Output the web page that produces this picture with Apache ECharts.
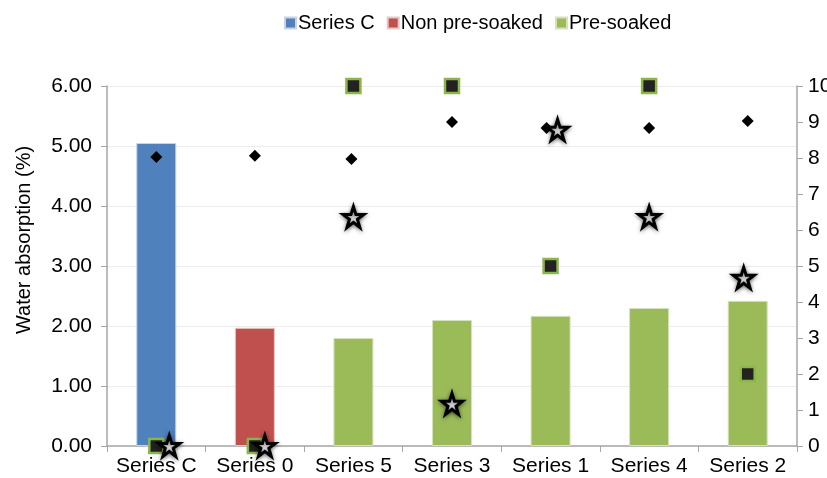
<!DOCTYPE html>
<html>
<head>
<meta charset="utf-8">
<script src="https://cdn.jsdelivr.net/npm/echarts@6/dist/echarts.min.js"></script>
<style>
  html, body { margin: 0; padding: 0; background: #fff; }
  #chart { width: 827px; height: 478px; }
</style>
</head>
<body>
<div id="chart"></div>
<script>
// Category names along the x axis
const categories = ['Series C', 'Series 0', 'Series 5', 'Series 3', 'Series 1', 'Series 4', 'Series 2'];

// Water absorption (%) bars, one group per treatment
const controlBar    = [5.05, null, null, null, null, null, null];
const nonPreSoaked  = [null, 1.97, null, null, null, null, null];
const preSoaked     = [null, null, 1.80, 2.10, 2.17, 2.30, 2.42];

// Marker series on the secondary axis (0–10)
const diamondValues = [8.03, 8.06, 7.97, 9.00, 8.83, 8.83, 9.03];
const squareValues  = [0, 0, 10, 10, 5, 10, 2];
const starValues    = [0, 0, 6.36, 1.17, 8.78, 6.36, 4.67];

// Horizontal nudges (px) for markers that sit beside each other
const diamondShift = [0, 0, -2, 0, -4, 0, 0];
const starShift    = [13, 10, 0, 0, 7, 0, -4];

const leftTicks = [0, 1, 2, 3, 4, 5, 6];
const rightTicks = [0, 1, 2, 3, 4, 5, 6, 7, 8, 9, 10];

const FONT = 'Liberation Sans, Arial, sans-serif';
const AXIS_GRAY = '#a6a6a6';

function withShift(values, shifts) {
  return values.map((v, i) => ({ value: v, symbolOffset: [shifts[i], 0] }));
}

const chart = echarts.init(document.getElementById('chart'));
chart.setOption({
  animation: false,
  textStyle: { fontFamily: FONT },
  legend: {
    data: ['Series C', 'Non pre-soaked', 'Pre-soaked'],
    top: 8,
    left: 279,
    itemWidth: 11,
    itemHeight: 11,
    itemGap: 12,
    icon: 'rect',
    textStyle: { fontSize: 20, color: '#000', fontFamily: FONT, padding: [0, 0, 0, -3] }
  },
  grid: { left: 107, right: 30, top: 86, bottom: 32, containLabel: false, outerBoundsMode: 'none' },
  graphic: [
    {
      type: 'text',
      x: 24, y: 240,
      rotation: Math.PI / 2,
      style: {
        text: 'Water absorption (%)',
        font: '20px ' + FONT,
        fill: '#000',
        textAlign: 'center',
        textVerticalAlign: 'middle'
      }
    }
  ],
  xAxis: {
    type: 'category',
    data: categories,
    axisLine: { lineStyle: { color: AXIS_GRAY, width: 1.5 } },
    axisTick: { show: true, length: 6, lineStyle: { color: AXIS_GRAY } },
    axisLabel: { interval: 0, hideOverlap: false, fontSize: 21, color: '#000', margin: 10, fontFamily: FONT }
  },
  yAxis: [
    {
      type: 'value',
      min: 0, max: 6, interval: 1,
      axisLine: { show: true, lineStyle: { color: AXIS_GRAY, width: 1.5 } },
      axisTick: { show: true, length: 6, lineStyle: { color: AXIS_GRAY } },
      axisLabel: {
        fontSize: 21, color: '#000', margin: 15, fontFamily: FONT,
        formatter: v => leftTicks.includes(v) ? v.toFixed(2) : ''
      },
      splitLine: { lineStyle: { color: '#ececec' } }
    },
    {
      type: 'value',
      min: 0, max: 10, interval: 1,
      position: 'right',
      axisLine: { show: true, lineStyle: { color: AXIS_GRAY, width: 1.5 } },
      axisTick: { show: true, length: 6, lineStyle: { color: AXIS_GRAY } },
      axisLabel: {
        fontSize: 21, color: '#000', margin: 11, fontFamily: FONT,
        formatter: v => rightTicks.includes(v) ? String(v) : ''
      },
      splitLine: { show: false }
    }
  ],
  series: [
    {
      name: 'Series C', type: 'bar', stack: 'bars', barWidth: 40,
      data: controlBar.map(v => v === null ? '-' : v),
      itemStyle: { color: '#4f81bd', borderColor: '#c9d3e3', borderWidth: 1 }
    },
    {
      name: 'Non pre-soaked', type: 'bar', stack: 'bars', barWidth: 40,
      data: nonPreSoaked.map(v => v === null ? '-' : v),
      itemStyle: { color: '#c0504d', borderColor: '#e3c9c8', borderWidth: 1 }
    },
    {
      name: 'Pre-soaked', type: 'bar', stack: 'bars', barWidth: 40,
      data: preSoaked.map(v => v === null ? '-' : v),
      itemStyle: { color: '#9bbb59', borderColor: '#d6e2bf', borderWidth: 1 }
    },
    {
      name: 'diamonds', type: 'scatter', yAxisIndex: 1,
      symbol: 'diamond', symbolSize: 12,
      data: withShift(diamondValues, diamondShift),
      itemStyle: { color: '#000', opacity: 1 },
      z: 5
    },
    {
      name: 'squares', type: 'scatter', yAxisIndex: 1,
      symbol: 'rect', symbolSize: 14,
      data: squareValues,
      itemStyle: { color: '#222', borderColor: '#8db64a', borderWidth: 2.5, opacity: 1 },
      z: 6
    },
    {
      name: 'stars', type: 'scatter', yAxisIndex: 1,
      symbol: 'path://M50,2 L61,36 L97,36 L68,57 L79,92 L50,70 L21,92 L32,57 L3,36 L39,36 Z',
      symbolSize: 21,
      data: withShift(starValues, starShift),
      itemStyle: {
        color: '#f4f4f4', borderColor: '#000', borderWidth: 3, opacity: 1,
        shadowColor: 'rgba(0,0,0,0.5)', shadowBlur: 4, shadowOffsetY: 1
      },
      z: 7
    }
  ]
});
</script>
</body>
</html>
